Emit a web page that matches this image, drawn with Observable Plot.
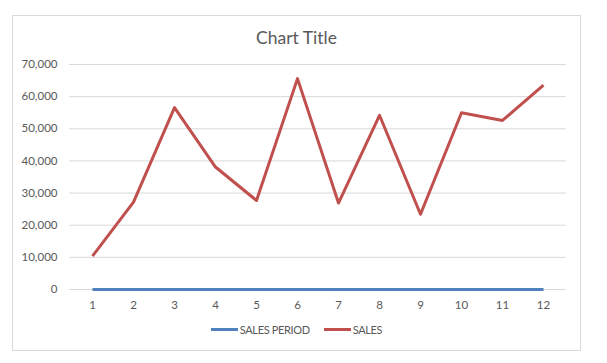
<!DOCTYPE html>
<html>
<head>
<meta charset="utf-8">
<script src="https://cdn.jsdelivr.net/npm/d3@7"></script>
<script src="https://cdn.jsdelivr.net/npm/@observablehq/plot@0.6"></script>
<style>
  html, body { margin: 0; padding: 0; background: #fff; }
  body { width: 607px; height: 363px; position: relative; overflow: hidden; font-family: Lato, "Open Sans", sans-serif; }
  #frame { position: absolute; left: 12px; top: 15px; width: 569px; height: 336px; border: 1px solid #d9d9d9; box-sizing: border-box; }
  #title { position: absolute; left: 0; top: 10px; width: 100%; text-align: center; font-size: 17.5px; color: #595959; line-height: 24px; }
  #chart { position: absolute; left: 0; top: 34px; }
  #legend { position: absolute; left: 0; top: 307px; width: 100%; display: flex; justify-content: center; gap: 14px; font-size: 11px; letter-spacing: -0.35px; color: #595959; }
  .item { display: flex; align-items: center; gap: 2px; }
  .sw { display: inline-block; width: 27px; height: 3px; }
</style>
</head>
<body>
<div id="frame">
  <div id="title">Chart Title</div>
  <div id="chart"></div>
  <div id="legend"></div>
</div>
<script>
const periods = [1, 2, 3, 4, 5, 6, 7, 8, 9, 10, 11, 12];
const salesPeriod = [1, 2, 3, 4, 5, 6, 7, 8, 9, 10, 11, 12];
const sales = [10400, 27200, 56600, 38100, 27700, 65600, 26900, 54200, 23400, 55000, 52600, 63600];
const yTicks = [0, 10000, 20000, 30000, 40000, 50000, 60000, 70000];
const seriesNames = ["SALES PERIOD", "SALES"];
const seriesColors = ["#4F81BD", "#C0504D"];

const rows = [];
periods.forEach((p, i) => {
  rows.push({period: p, value: salesPeriod[i], series: seriesNames[0]});
  rows.push({period: p, value: sales[i], series: seriesNames[1]});
});

const plot = Plot.plot({
  width: 567,
  height: 264,
  marginLeft: 56,
  marginRight: 14,
  marginTop: 14,
  marginBottom: 25,
  style: {fontFamily: "Lato, 'Open Sans', sans-serif", fontSize: "11.5px", color: "#595959", background: "#fff"},
  x: {type: "point", domain: periods, padding: 0.5, label: null, tickSize: 0, tickPadding: 12},
  y: {domain: [0, 70000], label: null, ticks: yTicks, tickFormat: d3.format(","), tickSize: 0, tickPadding: 12},
  color: {domain: seriesNames, range: seriesColors},
  marks: [
    Plot.gridY(yTicks, {stroke: "#d9d9d9", strokeOpacity: 1, strokeWidth: 1}),
    Plot.axisX({tickSize: 0, tickPadding: 11, fill: "#595959"}),
    Plot.axisY({ticks: yTicks, tickFormat: d3.format(","), tickSize: 0, tickPadding: 12, fill: "#595959"}),
    Plot.line(rows, {x: "period", y: "value", z: "series", stroke: "series", strokeWidth: 3, strokeLinejoin: "round", strokeLinecap: "butt"})
  ]
});
document.getElementById("chart").appendChild(plot);

const legend = document.getElementById("legend");
seriesNames.forEach((name, i) => {
  const item = document.createElement("div");
  item.className = "item";
  const sw = document.createElement("span");
  sw.className = "sw";
  sw.style.background = seriesColors[i];
  const label = document.createElement("span");
  label.textContent = name;
  item.appendChild(sw);
  item.appendChild(label);
  legend.appendChild(item);
});
</script>
</body>
</html>
